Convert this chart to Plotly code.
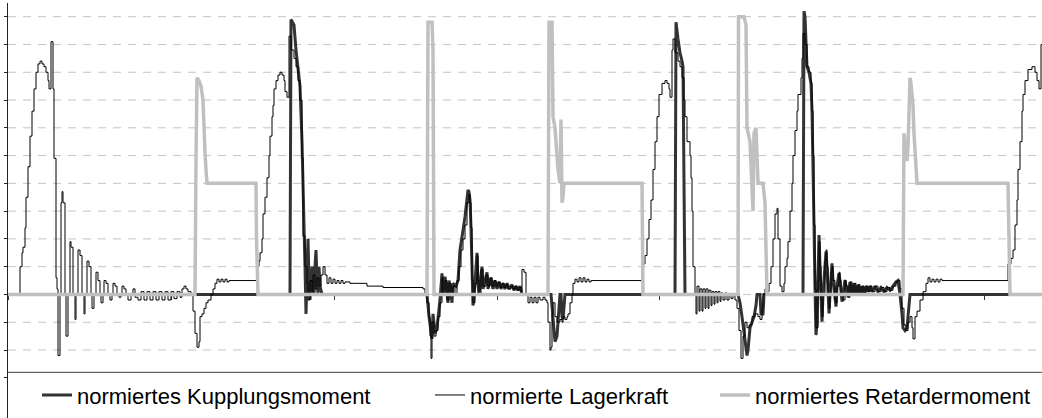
import plotly.graph_objects as go

# ---------------- data (time in sample units, values normalised) ----------------
kupplung = [
    (8, 0.0), (290, 0.0), (291, 0.99), (294, 0.97), (296, 0.88), (298, 0.82), (300, 0.75),
    (302, 0.55), (303, 0.42), (304, 0.25), (305, 0.10), (306, -0.07), (307, 0.05), (308, 0.20),
    (309, 0.05), (310, -0.02), (311, 0.05), (312, 0.10), (313, 0.02), (314, 0.0), (315, 0.10),
    (316, 0.16), (317, 0.05), (318, 0.0), (319, 0.10), (320, 0.03), (322, 0.0),
    (427, 0.0), (429, -0.08), (431, -0.14), (432, -0.16), (433, -0.07), (435, -0.14), (437, -0.12),
    (438, -0.09), (440, -0.02), (442, 0.076), (443, 0.0), (445, 0.064), (447, 0.0), (448, -0.03),
    (449, 0.05), (450, 0.03), (452, -0.03), (453, 0.04), (456, 0.03), (458, 0.05), (460, 0.16),
    (462, 0.22), (463, 0.23), (465, 0.28), (467, 0.34), (468, 0.376), (469, 0.37), (470, 0.34),
    (471, 0.24), (472, 0.04), (473, -0.04), (475, 0.04), (477, 0.15), (478, 0.04), (479, 0.0),
    (482, 0.10), (483, 0.02), (487, 0.08), (488, 0.02), (491, 0.06), (493, 0.02), (495, 0.05),
    (497, 0.02), (499, 0.045), (501, 0.02), (503, 0.04), (505, 0.02), (507, 0.04), (509, 0.02),
    (512, 0.035), (514, 0.015), (516, 0.03), (518, 0.015), (520, 0.03), (522, 0.0),
    (551, 0.0), (553, -0.10), (555, -0.17), (557, -0.15), (558, -0.10), (559, -0.03), (560, 0.0),
    (561, 0.0), (562, -0.08), (563, -0.09), (564, -0.02), (565, 0.0),
    (675, 0.0), (676, 0.98), (678, 0.92), (680, 0.87), (682, 0.84), (683, 0.82), (684, 0.40), (685, 0.0),
    (738, 0.0), (740, -0.03), (742, -0.08), (744, -0.14), (746, -0.20), (747, -0.22), (748, -0.20),
    (750, -0.12), (752, -0.10), (754, -0.08), (756, -0.04), (757, 0.0), (760, 0.0), (761, -0.07),
    (763, -0.07), (764, 0.0),
    (803, 0.0), (804, 1.02), (805, 1.0), (806, 0.92), (807, 0.82), (809, 0.80), (811, 0.76),
    (812, 0.66), (813, 0.50), (814, 0.25), (815, 0.02), (816, -0.146), (817, -0.10), (818, 0.05),
    (819, 0.214), (820, 0.10), (821, -0.02), (822, -0.098), (823, 0.0), (825, 0.12), (826, 0.154),
    (827, 0.10), (828, 0.0), (829, -0.068), (830, 0.0), (831, 0.08), (832, 0.112), (833, 0.05),
    (835, -0.02), (836, -0.044), (837, 0.03), (839, 0.076), (840, 0.05), (841, 0.0), (842, -0.026),
    (843, 0.0), (845, 0.052), (846, 0.03), (848, -0.01), (850, 0.045), (852, 0.0), (854, 0.04),
    (856, 0.0), (858, 0.035), (860, 0.005), (862, 0.03), (864, 0.005), (866, 0.03), (868, 0.01),
    (870, 0.03), (872, 0.01), (875, 0.03), (878, 0.01), (881, 0.025), (884, 0.01), (887, 0.025),
    (890, 0.015), (893, 0.03), (896, 0.045), (898, 0.05), (900, 0.0), (902, -0.07), (903, -0.12),
    (905, -0.13), (907, -0.12), (908, -0.08), (910, 0.0), (1042, 0.0),
]

lagerkraft = [
    (8, 0.0), (20, 0.10), (22, 0.15), (23, 0.17), (25, 0.24), (26, 0.35), (28, 0.46), (30, 0.57),
    (32, 0.66), (34, 0.74), (36, 0.80), (38, 0.83), (40, 0.84), (42, 0.83), (44, 0.82), (46, 0.80),
    (48, 0.77), (49, 0.74), (51, 0.91), (53, 0.74), (54, 0.49), (56, 0.06), (57, 0.02), (58, -0.22),
    (60, 0.0), (61, 0.33), (62, 0.37), (63, 0.33), (65, 0.0), (66, -0.15), (68, 0.0), (70, 0.19),
    (71, 0.17), (73, 0.0), (75, -0.09), (76, 0.0), (78, 0.16), (80, 0.14), (82, 0.0), (84, -0.07),
    (85, 0.0), (87, 0.12), (89, 0.10), (91, 0.0), (92, -0.05), (94, 0.0), (96, 0.08), (98, 0.05),
    (100, 0.0), (101, -0.03), (103, 0.0), (104, 0.05), (106, 0.04), (108, 0.0), (110, -0.02),
    (112, 0.0), (113, 0.04), (115, 0.03), (117, 0.0), (119, -0.01), (121, 0.0), (122, 0.03),
    (124, 0.02), (126, 0.0), (128, -0.02), (131, 0.0), (133, 0.02), (135, -0.01), (138, -0.02),
    (141, 0.01), (144, -0.02), (147, 0.01), (150, -0.02), (153, 0.01), (156, -0.02), (159, 0.01),
    (162, -0.02), (165, 0.01), (168, -0.02), (171, 0.01), (174, -0.015), (177, 0.01), (180, -0.01),
    (182, 0.02), (184, 0.03), (186, 0.02), (188, 0.01), (191, 0.0), (193, -0.06), (195, -0.14),
    (197, -0.19), (199, -0.17), (200, -0.08), (202, -0.07), (204, -0.05), (206, -0.03), (208, -0.02),
    (211, 0.0), (213, 0.02), (215, 0.04), (217, 0.055), (219, 0.045), (221, 0.055), (223, 0.045),
    (225, 0.055), (227, 0.045), (229, 0.05), (257, 0.10), (259, 0.12), (260, 0.15), (262, 0.20),
    (263, 0.29), (265, 0.35), (267, 0.42), (269, 0.50), (270, 0.57), (272, 0.64), (273, 0.68),
    (274, 0.74), (276, 0.77), (278, 0.79), (280, 0.80), (282, 0.79), (284, 0.77), (285, 0.73),
    (287, 0.71), (289, 0.93), (291, 0.88), (294, 0.85), (296, 0.82), (298, 0.77), (300, 0.70),
    (302, 0.49), (303, 0.21), (305, 0.10), (307, 0.04), (308, -0.02), (310, 0.05), (312, 0.01),
    (313, 0.07), (315, 0.02), (317, 0.06), (319, 0.03), (321, 0.07), (323, 0.10), (325, 0.07),
    (327, 0.04), (329, 0.06), (331, 0.04), (333, 0.055), (335, 0.04), (337, 0.05), (339, 0.04),
    (341, 0.05), (343, 0.04), (345, 0.045), (350, 0.04), (367, 0.03), (383, 0.025), (423, 0.02),
    (425, 0.0), (427, -0.03), (429, -0.08), (430, -0.15), (431, -0.23), (432, -0.10), (434, -0.15),
    (436, -0.13), (438, -0.08), (440, -0.03), (442, 0.06), (443, 0.0), (445, 0.05), (447, -0.02),
    (449, 0.04), (451, 0.01), (453, 0.03), (455, 0.0), (457, 0.05), (459, 0.10), (461, 0.16),
    (463, 0.20), (465, 0.25), (467, 0.33), (469, 0.36), (470, 0.33), (471, 0.24), (472, 0.05),
    (473, -0.03), (475, 0.04), (477, 0.14), (478, 0.05), (479, 0.0), (481, 0.09), (483, 0.03),
    (486, 0.07), (488, 0.03), (490, 0.06), (492, 0.03), (494, 0.05), (496, 0.03), (498, 0.045),
    (500, 0.025), (502, 0.04), (504, 0.025), (506, 0.035), (508, 0.02), (511, 0.03), (513, 0.02),
    (515, 0.03), (517, 0.015), (519, 0.025), (521, 0.01), (522, 0.09), (524, 0.08), (526, 0.0),
    (528, -0.03), (530, -0.01), (532, -0.03), (534, -0.01), (536, -0.03), (538, -0.01), (540, -0.02),
    (543, -0.01), (545, -0.02), (547, -0.03), (548, -0.10), (550, -0.20), (551, -0.19), (552, -0.07),
    (553, -0.03), (555, -0.08), (557, -0.10), (560, -0.09), (562, -0.10), (563, -0.08), (565, -0.09),
    (567, -0.08), (568, -0.07), (570, -0.03), (572, 0.0), (573, 0.04), (575, 0.055), (577, 0.045),
    (579, 0.06), (581, 0.045), (583, 0.06), (585, 0.045), (587, 0.055), (589, 0.045), (591, 0.05),
    (642, 0.10), (643, 0.11), (645, 0.14), (647, 0.20), (649, 0.27), (651, 0.34), (653, 0.45),
    (655, 0.55), (657, 0.64), (659, 0.72), (662, 0.76), (665, 0.77), (667, 0.76), (669, 0.74),
    (670, 0.71), (672, 0.88), (673, 0.92), (675, 0.87), (678, 0.84), (680, 0.82), (682, 0.78),
    (684, 0.70), (685, 0.64), (687, 0.55), (690, 0.50), (691, 0.42), (692, 0.30), (693, 0.10),
    (695, 0.0), (696, -0.07), (697, 0.03), (699, -0.06), (700, 0.02), (702, -0.06), (703, 0.02),
    (705, -0.05), (706, 0.02), (708, -0.05), (709, 0.015), (711, -0.04), (712, 0.01), (714, -0.035),
    (715, 0.01), (717, -0.03), (718, 0.01), (720, -0.025), (721, 0.005), (723, -0.02), (725, 0.005),
    (727, -0.02), (729, 0.0), (731, -0.015), (733, 0.0), (735, -0.02), (737, -0.05), (739, -0.13),
    (741, -0.23), (743, -0.15), (745, -0.10), (747, -0.12), (749, -0.11), (752, -0.08), (755, -0.07),
    (758, -0.08), (760, -0.09), (762, -0.05), (763, 0.0), (765, 0.02), (767, 0.01), (769, 0.04),
    (771, 0.10), (773, 0.20), (775, 0.29), (777, 0.31), (778, 0.20), (780, 0.03), (782, 0.01),
    (784, 0.04), (785, 0.10), (787, 0.13), (788, 0.19), (790, 0.30), (792, 0.40), (793, 0.50),
    (795, 0.59), (797, 0.66), (798, 0.72), (801, 0.78), (802, 0.85), (803, 0.94), (805, 0.90),
    (807, 0.82), (809, 0.80), (811, 0.76), (812, 0.66), (813, 0.50), (814, 0.25), (815, 0.02),
    (816, -0.12), (818, 0.05), (819, 0.19), (820, 0.10), (821, -0.02), (822, -0.08), (823, 0.0),
    (825, 0.12), (826, 0.16), (827, 0.10), (828, 0.0), (829, -0.05), (830, 0.0), (831, 0.08),
    (832, 0.10), (833, 0.05), (835, -0.02), (836, -0.03), (837, 0.03), (839, 0.08), (840, 0.05),
    (841, 0.0), (843, -0.02), (845, 0.05), (846, 0.03), (848, -0.01), (850, 0.045), (852, 0.0),
    (854, 0.04), (856, 0.0), (858, 0.035), (860, 0.005), (862, 0.03), (864, 0.005), (866, 0.03),
    (868, 0.01), (870, 0.03), (872, 0.01), (875, 0.03), (878, 0.01), (881, 0.025), (884, 0.01),
    (887, 0.025), (890, 0.015), (893, 0.03), (896, 0.045), (898, 0.05), (900, 0.02), (902, -0.05),
    (904, -0.11), (906, -0.13), (908, -0.10), (910, -0.08), (912, -0.12), (913, -0.16), (915, -0.08),
    (917, -0.06), (920, -0.02), (923, 0.01), (926, 0.04), (928, 0.06), (930, 0.045), (932, 0.055),
    (934, 0.045), (936, 0.055), (938, 0.045), (940, 0.055), (942, 0.05), (1008, 0.11), (1011, 0.13),
    (1013, 0.16), (1015, 0.25), (1017, 0.34), (1018, 0.45), (1020, 0.55), (1022, 0.66), (1023, 0.72),
    (1025, 0.77), (1028, 0.81), (1032, 0.82), (1035, 0.80), (1037, 0.77), (1039, 0.74), (1041, 0.90),
    (1042, 0.90),
]

retarder = [
    (8, 0.0), (195, 0.0), (196, 0.48), (197, 0.78), (199, 0.77), (201, 0.75), (203, 0.70), (204, 0.58),
    (205, 0.51), (206, 0.45), (207, 0.40), (256, 0.40), (256.5, 0.20), (258, 0.0),
    (427, 0.0), (428, 0.98), (432, 0.98), (433, 0.88), (434, 0.0),
    (548, 0.0), (549, 0.98), (552, 0.98), (553, 0.64), (555, 0.60), (556, 0.55), (557, 0.50),
    (558, 0.45), (560, 0.40), (561, 0.63), (562, 0.33), (563, 0.35), (564, 0.40), (642, 0.40), (643, 0.0),
    (738, 0.0), (738.5, 1.0), (744, 1.0), (746, 0.97), (747, 0.60), (750, 0.55), (752, 0.40),
    (753, 0.30), (754, 0.58), (756, 0.60), (757, 0.50), (758, 0.40), (763, 0.40), (765, 0.33), (767, 0.0),
    (903, 0.0), (904, 0.58), (906, 0.52), (907, 0.48), (908, 0.53), (910, 0.78), (911, 0.76),
    (913, 0.68), (914, 0.58), (915, 0.50), (917, 0.40), (1008, 0.40), (1009, 0.11), (1010, 0.0),
    (1042, 0.0),
]

series_names = ["normiertes Kupplungsmoment", "normierte Lagerkraft", "normiertes Retardermoment"]
y_tick_values = [-0.3, -0.2, -0.1, 0.0, 0.1, 0.2, 0.3, 0.4, 0.5, 0.6, 0.7, 0.8, 0.9, 1.0]
grid_values = [-0.2, -0.1, 0.0, 0.1, 0.2, 0.3, 0.4, 0.5, 0.6, 0.7, 0.8, 0.9, 1.0]
x_tick_values = [8, 171, 334, 497, 659, 822, 984]

# ---------------- figure ----------------
Y_MIN, Y_MAX = -0.4448, 1.0493
X_MIN, X_MAX = 8, 1042


def unzip(pairs):
    return [p[0] for p in pairs], [p[1] for p in pairs]


fig = go.Figure()
kx, ky = unzip(kupplung)
lx, ly = unzip(lagerkraft)
rx, ry = unzip(retarder)

fig.add_trace(go.Scatter(x=kx, y=ky, mode="lines", name=series_names[0],
                         line=dict(color="#333333", width=3), legend="legend"))
fig.add_trace(go.Scatter(x=lx, y=ly, mode="lines", name=series_names[1],
                         line=dict(color="#000000", width=1, shape="hv"), legend="legend2"))
fig.add_trace(go.Scatter(x=rx, y=ry, mode="lines", name=series_names[2],
                         line=dict(color="#c0c0c0", width=3.5), legend="legend3"))

shapes = []
for g in grid_values:
    shapes.append(dict(type="line", xref="x", yref="y", x0=X_MIN, x1=X_MAX, y0=g, y1=g,
                       line=dict(color="#c4c4c4", width=1, dash="8px,7px"), layer="below"))
# plot-area bottom border line
shapes.append(dict(type="line", xref="paper", yref="paper", x0=0, x1=1, y0=0.1101, y1=0.1101,
                   line=dict(color="#404040", width=1)))

zero_pos = (0 - Y_MIN) / (Y_MAX - Y_MIN)
legend_font = dict(family="Liberation Sans, Arial, sans-serif", size=22, color="#000000")
leg_common = dict(orientation="h", y=0.055, yanchor="middle", xanchor="left",
                  bgcolor="rgba(0,0,0,0)", borderwidth=0, font=legend_font, itemwidth=30)

fig.update_layout(
    width=1042, height=418, autosize=False,
    margin=dict(l=8, r=0, t=3, b=0, pad=0),
    paper_bgcolor="white", plot_bgcolor="white",
    showlegend=True,
    xaxis=dict(range=[X_MIN, X_MAX], showgrid=False, zeroline=False, showline=False,
               showticklabels=False, ticks="outside", ticklen=5, tickwidth=1, tickcolor="#333333",
               tickmode="array", tickvals=x_tick_values, anchor="free", position=zero_pos,
               layer="below traces"),
    yaxis=dict(range=[Y_MIN, Y_MAX], showgrid=False, zeroline=False, showline=True,
               linecolor="#222222", linewidth=1, ticks="outside", ticklen=3, tickwidth=1,
               tickcolor="#222222", tickmode="array", tickvals=y_tick_values, showticklabels=False),
    shapes=shapes,
    legend=dict(x=(37 - 8) / 1034, **leg_common),
    legend2=dict(x=(430 - 8) / 1034, **leg_common),
    legend3=dict(x=(715 - 8) / 1034, **leg_common),
)

fig.write_html("out.html", config={"displayModeBar": False})
